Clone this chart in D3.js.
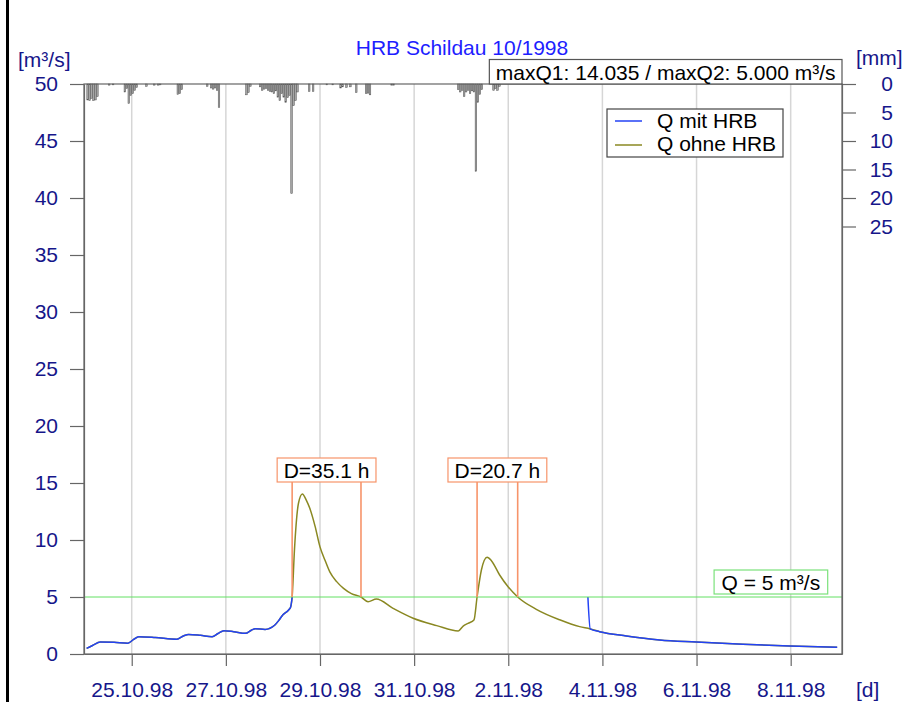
<!DOCTYPE html>
<html>
<head>
<meta charset="utf-8">
<script src="https://cdn.jsdelivr.net/npm/d3@7"></script>
<style>
  html, body { margin: 0; padding: 0; background: #fff; }
  svg { display: block; font-family: "Liberation Sans", Arial, sans-serif; }
</style>
</head>
<body>
<svg id="chart" width="906" height="702"></svg>
<script>
// ---- data -------------------------------------------------------------
const chartTitle = "HRB Schildau 10/1998";
const seriesNames = ["Q mit HRB", "Q ohne HRB"];
const thresholdQ = 5;

// discharge without reservoir [m³/s]
const qOhne = [
  ["24.10.98 01:00", 0.50], ["24.10.98 04:00", 0.75], ["24.10.98 08:00", 1.06],
  ["24.10.98 15:00", 1.03], ["24.10.98 22:00", 0.95], ["25.10.98 01:00", 1.28],
  ["25.10.98 03:30", 1.52], ["25.10.98 12:00", 1.45], ["25.10.98 23:00", 1.30],
  ["26.10.98 02:20", 1.58], ["26.10.98 05:00", 1.72], ["26.10.98 11:00", 1.64],
  ["26.10.98 17:00", 1.52], ["26.10.98 20:00", 1.80], ["26.10.98 23:00", 2.05],
  ["27.10.98 04:00", 1.96], ["27.10.98 10:00", 1.81], ["27.10.98 13:00", 2.08],
  ["27.10.98 15:00", 2.22], ["27.10.98 20:00", 2.16], ["28.10.98 01:00", 2.54],
  ["28.10.98 03:00", 2.95], ["28.10.98 05:00", 3.42], ["28.10.98 08:00", 3.86],
  ["28.10.98 09:00", 4.10], ["28.10.98 09:48", 5.00], ["28.10.98 11:00", 9.20],
  ["28.10.98 13:00", 13.20], ["28.10.98 15:00", 14.035], ["28.10.98 17:00", 13.50],
  ["28.10.98 18:45", 12.80], ["28.10.98 21:30", 11.20], ["29.10.98 00:00", 9.40],
  ["29.10.98 02:30", 8.25], ["29.10.98 05:00", 7.20], ["29.10.98 08:30", 6.35],
  ["29.10.98 12:00", 5.76], ["29.10.98 16:00", 5.30], ["29.10.98 20:54", 5.00],
  ["30.10.98 00:30", 4.59], ["30.10.98 04:45", 4.82], ["30.10.98 13:15", 4.00],
  ["30.10.98 23:30", 3.13], ["31.10.98 11:30", 2.49], ["31.10.98 22:30", 2.02],
  ["01.11.98 01:00", 2.45], ["01.11.98 03:30", 2.69], ["01.11.98 06:30", 2.98],
  ["01.11.98 08:06", 5.00], ["01.11.98 10:18", 7.37], ["01.11.98 13:12", 8.48],
  ["01.11.98 15:24", 8.19], ["01.11.98 19:36", 6.93], ["01.11.98 23:54", 5.90],
  ["02.11.98 04:48", 5.00], ["02.11.98 14:18", 3.92], ["03.11.98 02:12", 3.00],
  ["03.11.98 12:24", 2.40], ["03.11.98 17:48", 2.20], ["03.11.98 22:36", 1.96],
  ["04.11.98 12:12", 1.58], ["05.11.98 05:12", 1.23], ["05.11.98 23:54", 1.05],
  ["06.11.98 23:36", 0.85], ["07.11.98 23:24", 0.70], ["08.11.98 23:42", 0.59]
];

// discharge with reservoir [m³/s] (outflow held at 5 m³/s while storing/releasing)
const qMit = [
  ["24.10.98 01:00", 0.50], ["24.10.98 04:00", 0.75], ["24.10.98 08:00", 1.06],
  ["24.10.98 15:00", 1.03], ["24.10.98 22:00", 0.95], ["25.10.98 01:00", 1.28],
  ["25.10.98 03:30", 1.52], ["25.10.98 12:00", 1.45], ["25.10.98 23:00", 1.30],
  ["26.10.98 02:20", 1.58], ["26.10.98 05:00", 1.72], ["26.10.98 11:00", 1.64],
  ["26.10.98 17:00", 1.52], ["26.10.98 20:00", 1.80], ["26.10.98 23:00", 2.05],
  ["27.10.98 04:00", 1.96], ["27.10.98 10:00", 1.81], ["27.10.98 13:00", 2.08],
  ["27.10.98 15:00", 2.22], ["27.10.98 20:00", 2.16], ["28.10.98 01:00", 2.54],
  ["28.10.98 03:00", 2.95], ["28.10.98 05:00", 3.42], ["28.10.98 08:00", 3.86],
  ["28.10.98 09:00", 4.10], ["28.10.98 09:48", 5.00], ["03.11.98 16:36", 5.00],
  ["03.11.98 17:48", 2.20], ["03.11.98 22:36", 1.96], ["04.11.98 12:12", 1.58],
  ["05.11.98 05:12", 1.23], ["05.11.98 23:54", 1.05], ["06.11.98 23:36", 0.85],
  ["07.11.98 23:24", 0.70], ["08.11.98 23:42", 0.59]
];

// hourly precipitation [mm], hour counted from 24.10.98 00:00
const rainStart = "24.10.98 00:00";
const rainHour = [1, 2, 3, 4, 5, 6, 12, 14,
  20, 21, 22, 23, 24, 25, 26, 31, 35, 37, 38,
  47, 48, 49, 62, 64, 65, 66, 67, 68, 82, 83, 84,
  89, 90, 91, 92, 93, 94, 95, 96, 97, 98, 99, 100, 101, 102, 103, 104, 105, 106, 107, 108,
  114, 116, 123, 126, 130, 131, 133, 135, 138, 143, 144, 145, 156, 157,
  190, 191, 192, 193, 194, 195, 196, 197, 198, 199, 200, 201, 202,
  208, 209, 210, 211];
const rainMm = [2.8, 2.9, 2.5, 2.9, 2.8, 2.2, 0.2, 0.15,
  1.4, 0.8, 3.4, 2.0, 1.7, 1.1, 0.6, 0.4, 0.2, 0.2, 0.15,
  1.8, 1.7, 1.0, 0.4, 0.7, 0.9, 0.7, 1.1, 4.1, 1.9, 1.5, 0.4,
  0.5, 1.1, 0.9, 0.8, 1.1, 1.3, 1.4, 1.7, 1.2, 2.3, 2.9, 1.7, 2.3, 3.2, 2.4, 2.0, 19.2, 3.8, 2.9, 1.4,
  1.3, 1.3, 0.15, 0.15, 0.7, 0.5, 0.6, 0.5, 1.5, 1.7, 1.6, 1.9, 0.2, 0.2,
  1.0, 1.4, 1.1, 2.2, 1.4, 1.1, 1.7, 1.2, 1.4, 15.3, 3.2, 1.8, 1.0,
  1.1, 0.8, 1.1, 0.4];

// periods with Q ohne HRB above the threshold
const eventStart = ["28.10.98 09:48", "01.11.98 08:06"];
const eventHours = [35.1, 20.7];

// axis ticks
const xTickLabels = ["25.10.98", "27.10.98", "29.10.98", "31.10.98", "2.11.98", "4.11.98", "6.11.98", "8.11.98"];
const qTicks = [0, 5, 10, 15, 20, 25, 30, 35, 40, 45, 50];
const rainTicks = [0, 5, 10, 15, 20, 25];

// ---- setup ------------------------------------------------------------
const parse = d3.timeParse("%d.%m.%y %H:%M");
const parseDay = d3.timeParse("%d.%m.%y");
const HOUR = 3600 * 1000;

const pL = 84, pR = 842, pT = 84, pB = 654;
const navy = "#16168a", axisGrey = "#666", orange = "#f7946a", green = "#62e062";
const blue = "#2342f5", olive = "#8a8822";
const fontSize = 21;

const svg = d3.select("#chart");

const x = d3.scaleTime()
  .domain([parse("23.10.98 23:40"), parse("09.11.98 02:10")])
  .range([pL, pR]);
const yQ = d3.scaleLinear().domain([0, 50]).range([pB, pT]);
const yRain = d3.scaleLinear().domain([0, 100]).range([pT, pB]);

const ohne = qOhne.map(([t, v]) => ({ t: parse(t), v }));
const mit = qMit.map(([t, v]) => ({ t: parse(t), v }));
const t0 = parse(rainStart);
const rain = rainHour.map((h, i) => ({ t: new Date(+t0 + h * HOUR), v: rainMm[i] }));
const tickDates = xTickLabels.map(s => parseDay(s));

// outer frame edge
svg.append("line").attr("x1", 7.5).attr("x2", 7.5).attr("y1", 0).attr("y2", 702)
  .attr("stroke", "#000").attr("stroke-width", 3);

// vertical grid
svg.append("g").selectAll("line").data(tickDates).join("line")
  .attr("x1", d => x(d)).attr("x2", d => x(d))
  .attr("y1", pT).attr("y2", pB)
  .attr("stroke", "#d6d6d6").attr("stroke-width", 1.5);

// precipitation bars hanging from the top
svg.append("g").selectAll("rect").data(rain).join("rect")
  .attr("x", d => x(d.t) + 0.2)
  .attr("y", pT)
  .attr("width", d => x(new Date(+d.t + HOUR)) - x(d.t) - 0.4)
  .attr("height", d => yRain(d.v) - pT)
  .attr("fill", "#a6a6a6").attr("stroke", "#505050").attr("stroke-width", 0.5);

// discharge lines
const line = d3.line().x(d => x(d.t)).y(d => yQ(d.v)).curve(d3.curveMonotoneX);
svg.append("path").datum(ohne).attr("d", line)
  .attr("fill", "none").attr("stroke", olive).attr("stroke-width", 1.5);

// the capped stretch of Q mit HRB lies on the threshold line, so only the parts off it are stroked
const mitParts = [];
let cur = [];
mit.forEach((d, i) => {
  cur.push(d);
  const nxt = mit[i + 1];
  if (nxt && d.v === thresholdQ && nxt.v === thresholdQ) { mitParts.push(cur); cur = []; }
});
mitParts.push(cur);
svg.append("g").selectAll("path").data(mitParts.filter(p => p.length > 1)).join("path")
  .attr("d", d => line(d))
  .attr("fill", "none").attr("stroke", blue).attr("stroke-width", 1.5);

// threshold line
svg.append("line").attr("x1", pL).attr("x2", pR)
  .attr("y1", yQ(thresholdQ)).attr("y2", yQ(thresholdQ))
  .attr("stroke", green).attr("stroke-width", 1);

// text box helper
function textBox(g, str, xPos, baseline, anchor, stroke, padX) {
  const grp = g.append("g");
  const rect = grp.append("rect");
  const txt = grp.append("text").attr("x", xPos).attr("y", baseline)
    .attr("text-anchor", anchor).attr("font-size", fontSize).attr("fill", "#000").text(str);
  const bb = txt.node().getBBox();
  rect.attr("x", bb.x - padX).attr("y", baseline - 20)
    .attr("width", bb.width + 2 * padX).attr("height", 24)
    .attr("fill", "#fff").attr("stroke", stroke).attr("stroke-width", 1.2);
  return grp;
}

// duration markers
const markers = svg.append("g");
eventStart.forEach((s, i) => {
  const a = parse(s);
  const b = new Date(+a + eventHours[i] * HOUR);
  const boxBottom = 482;
  [a, b].forEach(t => {
    markers.append("line").attr("x1", x(t)).attr("x2", x(t))
      .attr("y1", yQ(thresholdQ)).attr("y2", boxBottom)
      .attr("stroke", orange).attr("stroke-width", 1.6);
  });
  const mid = (x(a) + x(b)) / 2;
  textBox(markers, `D=${eventHours[i].toFixed(1)} h`, mid, 478, "middle", orange, 6.5);
});

// threshold label
const qlab = textBox(svg, `Q = ${thresholdQ} m³/s`, 0, 590, "start", "#7be27b", 7.5);
{
  const bb = qlab.node().getBBox();
  qlab.attr("transform", `translate(${827.7 - bb.x - bb.width},0)`);
}

// plot frame
svg.append("rect").attr("x", pL).attr("y", pT)
  .attr("width", pR - pL).attr("height", pB - pT)
  .attr("fill", "none").attr("stroke", axisGrey).attr("stroke-width", 1.2);

// axes
const gx = svg.append("g").attr("transform", `translate(0,${pB})`)
  .call(d3.axisBottom(x).tickValues(tickDates).tickFormat((d, i) => xTickLabels[i])
    .tickSize(12).tickSizeOuter(0).tickPadding(16));
const gy = svg.append("g").attr("transform", `translate(${pL},0)`)
  .call(d3.axisLeft(yQ).tickValues(qTicks).tickSize(14).tickSizeOuter(0).tickPadding(12));
const gr = svg.append("g").attr("transform", `translate(${pR},0)`)
  .call(d3.axisRight(yRain).tickValues(rainTicks).tickSize(14).tickSizeOuter(0));
[gx, gy, gr].forEach(g => {
  g.select(".domain").attr("stroke", axisGrey).attr("stroke-width", 1.2);
  g.selectAll(".tick line").attr("stroke", axisGrey).attr("stroke-width", 1.2);
  g.selectAll(".tick text").attr("fill", navy).attr("font-size", fontSize)
    .attr("font-family", "Liberation Sans, Arial, sans-serif");
});
gr.selectAll(".tick text").attr("text-anchor", "end").attr("x", 51);

// unit labels
svg.append("text").attr("x", 18).attr("y", 67).attr("font-size", fontSize).attr("fill", navy).text("[m³/s]");
svg.append("text").attr("x", 856).attr("y", 65).attr("font-size", fontSize).attr("fill", navy).text("[mm]");
svg.append("text").attr("x", 856).attr("y", 697).attr("font-size", fontSize).attr("fill", navy).text("[d]");

// title
svg.append("text").attr("x", 462).attr("y", 55).attr("text-anchor", "middle")
  .attr("font-size", fontSize).attr("fill", "#1e1eff").text(chartTitle);

// maximum values box
const maxText = `maxQ1: ${d3.format(".3f")(d3.max(ohne, d => d.v))} / maxQ2: ${d3.format(".3f")(d3.max(mit, d => d.v))} m³/s`;
const mx = svg.append("g");
{
  const txt = mx.append("text").attr("x", 0).attr("y", 80).attr("font-size", fontSize).attr("fill", "#000").text(maxText);
  const w = txt.node().getComputedTextLength();
  const boxW = w + 13;
  txt.attr("x", pR - boxW + 6.5);
  mx.insert("rect", "text").attr("x", pR - boxW).attr("y", 59.5)
    .attr("width", boxW).attr("height", pT - 59.5)
    .attr("fill", "#fff").attr("stroke", "#555").attr("stroke-width", 1.2);
}

// legend
const lg = svg.append("g");
lg.append("rect").attr("x", 607).attr("y", 109).attr("width", 176).attr("height", 48)
  .attr("fill", "#fff").attr("stroke", "#444").attr("stroke-width", 1.2);
[[seriesNames[0], blue, 121, 128], [seriesNames[1], olive, 145, 151]].forEach(([name, col, ly, ty]) => {
  lg.append("line").attr("x1", 615).attr("x2", 642).attr("y1", ly).attr("y2", ly)
    .attr("stroke", col).attr("stroke-width", 1.5);
  lg.append("text").attr("x", 657).attr("y", ty).attr("font-size", fontSize).attr("fill", "#000").text(name);
});
</script>
</body>
</html>
